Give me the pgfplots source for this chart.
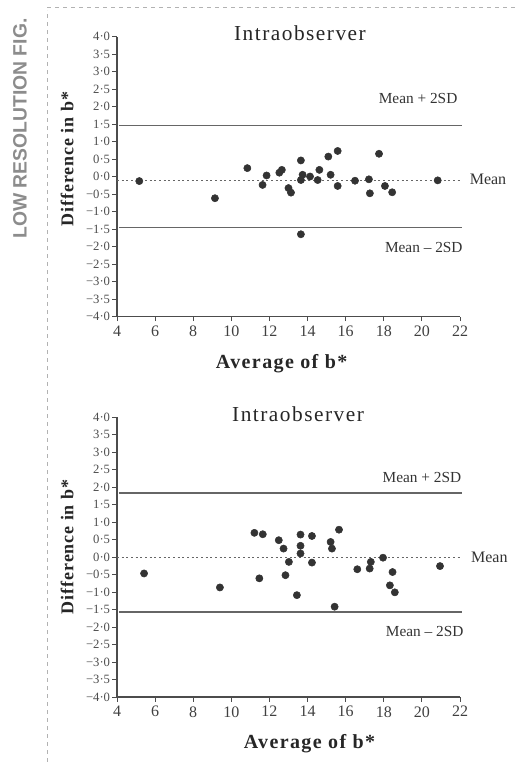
\documentclass[border=0pt]{standalone}
\usepackage{fontspec}
\setmainfont{Liberation Serif}
\newfontfamily\spaced{Liberation Serif}[LetterSpace=7]
\newfontfamily\spacedy{Liberation Serif}[LetterSpace=5]
\newfontfamily\sansfig{Liberation Sans}
\usepackage{pgfplots}
\pgfplotsset{compat=1.18}

\pgfplotstableread{
x y
5.17 -0.13
9.14 -0.62
10.84 0.24
11.64 -0.24
11.85 0.03
12.52 0.11
12.65 0.19
13.00 -0.33
13.13 -0.46
13.65 0.46
13.65 -0.10
13.74 0.05
14.13 0.00
14.53 -0.10
14.62 0.19
15.09 0.57
15.21 0.05
15.58 0.73
15.58 -0.27
16.49 -0.12
17.22 -0.08
17.27 -0.48
17.75 0.65
18.06 -0.27
18.44 -0.45
20.83 -0.11
13.65 -1.65
}\topdata

\pgfplotstableread{
x y
5.42 -0.47
9.40 -0.87
11.21 0.69
11.65 0.65
11.47 -0.61
12.49 0.48
12.74 0.24
12.84 -0.52
13.02 -0.14
13.44 -1.09
13.63 0.64
13.63 0.32
13.63 0.10
14.23 0.60
14.23 -0.16
15.21 0.43
15.28 0.24
15.65 0.78
15.42 -1.42
16.61 -0.35
17.26 -0.33
17.32 -0.14
17.96 -0.02
18.46 -0.43
18.32 -0.81
18.58 -1.01
20.95 -0.26
}\botdata

\pgfplotsset{ba/.style={
  scale only axis, width=257.25pt, height=210pt,
  xmin=4, xmax=22, ymin=-4, ymax=4,
  axis lines=left, axis line style={-, black!70, line width=0.8pt},
  xtick={4,6,8,10,12,14,16,18,20,22},
  ytick={-4,-3.5,-3,-2.5,-2,-1.5,-1,-0.5,0,0.5,1,1.5,2,2.5,3,3.5,4},
  yticklabels={−4·0,−3·5,−3·0,−2·5,−2·0,−1·5,−1·0,−0·5,0·0,0·5,1·0,1·5,2·0,2·5,3·0,3·5,4·0},
  tick align=outside, major tick length=3.5pt,
  tick style={black!70, line width=0.7pt},
  xticklabel style={font=\fontsize{12}{12}\selectfont, text=black!75},
  yticklabel style={font=\fontsize{9.5}{9.5}\selectfont, text=black!70, inner sep=1.5pt},
  /pgf/number format/assume math mode=true,
  clip=false,
}}

\begin{document}
\begin{tikzpicture}
\useasboundingbox (0,0) rectangle (387.75pt,571.5pt);
% scan artefacts
\draw[black!30, dashed, line width=0.5pt] (35.6pt,0) -- (35.6pt,564pt);
\draw[black!30, dashed, line width=0.5pt] (35.6pt,566pt) -- (387.75pt,566pt);
\node[rotate=90, text=black!45, font=\sansfig\bfseries\fontsize{14.5}{14.5}\selectfont] at (15pt,475pt) {LOW RESOLUTION FIG.};

% top plot
\begin{axis}[ba, at={(87.75pt,334.1pt)}, anchor=south west]
\addplot[black!60, line width=0.9pt] coordinates {(4.1,1.46) (22.1,1.46)};
\addplot[black!60, line width=0.9pt] coordinates {(4.1,-1.46) (22.1,-1.46)};
\addplot[black!60, line width=0.8pt, dash pattern=on 1.5pt off 2pt] coordinates {(4,-0.12) (22,-0.12)};
\addplot[only marks, mark=*, mark size=2.7pt, color=black!80] table[x=x,y=y] {\topdata};
\node[anchor=base, font=\spaced\fontsize{16}{16}\selectfont, text=black!85] at (axis cs:13.6,3.89) {Intraobserver};
\node[anchor=base, font=\fontsize{11.5}{11.5}\selectfont, text=black!80] at (axis cs:19.8,2.08) {Mean + 2SD};
\node[anchor=base, font=\fontsize{11.5}{11.5}\selectfont, text=black!80] at (axis cs:20.1,-2.18) {Mean – 2SD};
\node[anchor=base west, inner sep=0pt, font=\fontsize{12}{12}\selectfont, text=black!80] at (axis cs:22.5,-0.24) {Mean};
\node[anchor=base, font=\spaced\bfseries\fontsize{15}{15}\selectfont, text=black!85] at (axis cs:12.64,-5.49) {Average of b*};
\node[rotate=90, font=\spacedy\bfseries\fontsize{13.5}{13.5}\selectfont, text=black!85] at (axis cs:1.38,0.5) {Difference in b*};
\end{axis}

% bottom plot
\begin{axis}[ba, at={(87.75pt,48.75pt)}, anchor=south west]
\addplot[black!60, line width=0.9pt] coordinates {(4.1,1.83) (22.1,1.83)};
\addplot[black!60, line width=0.9pt] coordinates {(4.1,-1.57) (22.1,-1.57)};
\addplot[black!60, line width=0.8pt, dash pattern=on 1.5pt off 2pt] coordinates {(4,-0.02) (22,-0.02)};
\addplot[only marks, mark=*, mark size=2.7pt, color=black!80] table[x=x,y=y] {\botdata};
\node[anchor=base, font=\spaced\fontsize{16}{16}\selectfont, text=black!85] at (axis cs:13.5,3.86) {Intraobserver};
\node[anchor=base, font=\fontsize{11.5}{11.5}\selectfont, text=black!80] at (axis cs:20.0,2.14) {Mean + 2SD};
\node[anchor=base, font=\fontsize{11.5}{11.5}\selectfont, text=black!80] at (axis cs:20.15,-2.26) {Mean – 2SD};
\node[anchor=base west, inner sep=0pt, font=\fontsize{12}{12}\selectfont, text=black!80] at (axis cs:22.57,-0.16) {Mean};
\node[anchor=base, font=\spaced\bfseries\fontsize{15}{15}\selectfont, text=black!85] at (axis cs:14.1,-5.48) {Average of b*};
\node[rotate=90, font=\spacedy\bfseries\fontsize{13.5}{13.5}\selectfont, text=black!85] at (axis cs:1.38,0.29) {Difference in b*};
\end{axis}
\end{tikzpicture}
\end{document}
